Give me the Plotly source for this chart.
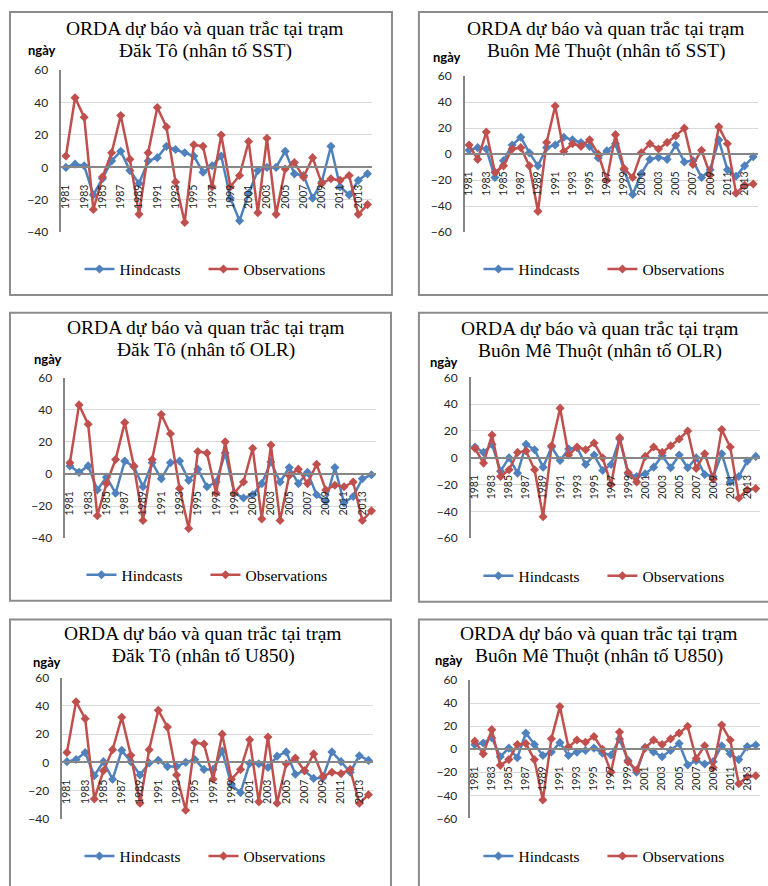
import plotly.graph_objects as go

W, H = 768, 886

# ---- data -------------------------------------------------------------
years = list(range(1981, 2015))
tick_years = list(range(1981, 2014, 2))
tick_text = [str(y) for y in tick_years]

obs_dakto = [7, 43, 31, -26, -6, 9, 32, 5, -29, 9,
             37, 25, -9, -34, 14, 13, -12, 20, -12, -5,
             16, -28, 18, -29, -1, 3, -6, 6, -10, -7,
             -8, -5, -29, -23]
obs_bmt = [7, -4, 17, -14, -9, 4, 5, -9, -44, 9,
           37, 2, 8, 6, 11, 0, -20, 15, -11, -18,
           1, 8, 4, 9, 14, 20, -8, 3, -16, 21,
           8, -30, -24, -23]

hind_dakto_sst = [0, 2, 1, -17, -7, 4, 10, -2, -10, 4,
                  6, 13, 11, 9, 7, -3, 1, 7, -19, -33,
                  -16, -2, 0, 0, 10, -4, -5, -19, -9, 13,
                  -12, -17, -8, -4]
hind_bmt_sst = [3, 5, 4, -18, -5, 7, 13, 1, -9, 5,
                7, 13, 11, 9, 6, -3, 2.5, 8, -12, -31,
                -15, -4, -2.5, -4, 7, -6, -5, -18, -12, 11,
                -12, -17, -9, -2]
hind_dakto_olr = [5, 1, 5, -10, -2, -12, 8, 4.5, -8, 7,
                  -3, 7, 8, -4, 3, -8, -5, 13, -12, -15,
                  -13, -6, 7.5, -5, 4, -6, 1, -13, -17, 4,
                  -18, -14, -3, -0.5]
hind_bmt_olr = [8, 4, 10, -10, 0, -11.5, 10, 6, -7, 8,
                -2, 6.5, 7.5, -5, 2, -9.5, -5, 14, -12, -14,
                -12, -7, 1.5, -7.5, 2, -7.5, 0, -12.5, -14, 3,
                -18, -14, -2.5, 1]
hind_dakto_u850 = [0.5, 2, 7, -9.5, 0.5, -12, 8.5, 0.5, -9, -0.5,
                   1.5, -3, -3, 0, 2, -5, -5, 8, -16, -21.5,
                   -0.7, -1, -3.7, 4.4, 7.4, -8.4, -6, -11.4, -11, 7.4,
                   0.5, -7, 4.7, 1.4]
hind_bmt_u850 = [4, 5.4, 10, -6.5, 1, -7.4, 14, 4, -5.4, -2.3,
                 5.7, -5.4, -2.5, -1, 1, -3.4, -5, 8.8, -9.7, -20,
                 1.7, -2.3, -6.5, -1, 5, -13.6, -10, -12.8, -10.8, 3,
                 -4, -9, 2.3, 3.7]

title_top = "ORDA dự báo và quan trắc tại trạm"
station_dakto = "Đăk Tô"
station_bmt = "Buôn Mê Thuột"
factors = ["SST", "OLR", "U850"]
unit_label = "ngày"
series_names = ["Hindcasts", "Observations"]

# ---- styling ----------------------------------------------------------
BLUE = "#4F81BD"
RED = "#C0504D"
AXIS = "#868686"
GRID = "#D9D9D9"
BOX = "#8C8C8C"
SERIF = "Liberation Serif"
SANS = "Lato"

# per-panel geometry in pixels: box, plot area, title centre/baselines,
# unit label centre, legend centre
panels = [
    dict(station=station_dakto, factor=factors[0], hind=hind_dakto_sst, obs=obs_dakto, ymin=-40,
         box=(8, 4, 391, 292), plot=(59.5, 63.3, 371, 228), tx=204, ty=(27, 50),
         unit=(40, 43), leg=(202, 266)),
    dict(station=station_bmt, factor=factors[0], hind=hind_bmt_sst, obs=obs_bmt, ymin=-60,
         box=(418, 4, 800, 292), plot=(464, 69.3, 757.5, 228), tx=606, ty=(27, 50),
         unit=(446, 50), leg=(602, 266)),
    dict(station=station_dakto, factor=factors[1], hind=hind_dakto_olr, obs=obs_dakto, ymin=-40,
         box=(8, 310, 390, 603), plot=(63.5, 376, 375, 539.3), tx=205, ty=(332, 355),
         unit=(46, 357), leg=(204, 577)),
    dict(station=station_bmt, factor=factors[1], hind=hind_bmt_olr, obs=obs_bmt, ymin=-60,
         box=(418, 310, 800, 604), plot=(470, 375.7, 760, 539.3), tx=600, ty=(333, 356),
         unit=(443, 360), leg=(602, 578)),
    dict(station=station_dakto, factor=factors[2], hind=hind_dakto_u850, obs=obs_dakto, ymin=-40,
         box=(8, 622, 390, 900), plot=(60.5, 681.3, 372, 824.7), tx=202, ty=(643, 666),
         unit=(45, 665), leg=(202, 863)),
    dict(station=station_bmt, factor=factors[2], hind=hind_bmt_u850, obs=obs_bmt, ymin=-60,
         box=(418, 622, 800, 900), plot=(469.7, 683.7, 760, 824.3), tx=599, ty=(643, 666),
         unit=(448, 663), leg=(602, 863)),
]


def px(x):
    return x / W


def py(y):
    return 1 - y / H


fig = go.Figure()
shapes, annotations = [], []
layout = dict(width=W, height=H, margin=dict(l=0, r=0, t=0, b=0),
              paper_bgcolor="white", plot_bgcolor="white", showlegend=True,
              font=dict(family=SERIF, color="black"))

TITLE_SIZE = 19.5
for i, p in enumerate(panels, start=1):
    sfx = "" if i == 1 else str(i)
    leg_key = "legend" if i == 1 else f"legend{i}"
    x0, y0, x1, y1 = p["plot"]
    ymax = 60
    ymin = p["ymin"]

    for name, vals, col in ((series_names[0], p["hind"], BLUE), (series_names[1], p["obs"], RED)):
        fig.add_trace(go.Scatter(
            x=years, y=vals, name=name, mode="lines+markers",
            line=dict(color=col, width=2.5),
            marker=dict(symbol="diamond", size=7, color=col),
            xaxis=f"x{sfx}", yaxis=f"y{sfx}", legend=leg_key,
        ))

    # horizontal axis drawn at the zero line
    zero_px = y0 + (ymax - 0) / (ymax - ymin) * (y1 - y0)
    layout[f"xaxis{sfx}"] = dict(
        domain=[px(x0), px(x1)], range=[1980.5, 2014.5], anchor="free",
        position=py(zero_px), tickmode="array", tickvals=tick_years, ticktext=tick_text,
        tickangle=-90, showgrid=False, zeroline=False, showline=True,
        linecolor=AXIS, linewidth=2, ticks="", ticklabelstandoff=12,
        tickfont=dict(family=SANS, size=10.5, color="#262626"),
    )
    layout[f"yaxis{sfx}"] = dict(
        domain=[py(y1), py(y0)], range=[ymin, ymax], dtick=20, tick0=0,
        anchor=f"x{sfx}", showgrid=True, gridcolor=GRID, gridwidth=1,
        zeroline=False, showline=True, linecolor=AXIS, linewidth=1.5,
        ticks="", ticklabelstandoff=9,
        tickfont=dict(family=SANS, size=12, color="#262626"),
    )
    layout[leg_key] = dict(
        orientation="h", x=px(p["leg"][0]), y=py(p["leg"][1]),
        xanchor="center", yanchor="middle", bgcolor="rgba(0,0,0,0)",
        font=dict(family=SERIF, size=15.5, color="black"),
        entrywidth=79, entrywidthmode="pixels", tracegroupgap=0,
    )

    bx0, by0, bx1, by1 = p["box"]
    shapes.append(dict(type="rect", xref="paper", yref="paper",
                       x0=px(bx0), x1=px(bx1), y0=py(by1), y1=py(by0),
                       line=dict(color=BOX, width=2), fillcolor="rgba(0,0,0,0)",
                       layer="below"))

    line2 = f"{p['station']} (nhân tố {p['factor']})"
    for text, base in ((title_top, p["ty"][0]), (line2, p["ty"][1])):
        annotations.append(dict(
            text=text, xref="paper", yref="paper", x=px(p["tx"]),
            y=py(base - 0.34 * TITLE_SIZE), xanchor="center", yanchor="middle",
            showarrow=False, font=dict(family=SERIF, size=TITLE_SIZE, color="black"),
        ))
    annotations.append(dict(
        text=f"<b>{unit_label}</b>", xref="paper", yref="paper",
        x=px(p["unit"][0]), y=py(p["unit"][1]), xanchor="center", yanchor="middle",
        showarrow=False, font=dict(family=SANS, size=13, color="black"),
    ))

layout["shapes"] = shapes
layout["annotations"] = annotations
fig.update_layout(**layout)
fig.write_html("out.html")
